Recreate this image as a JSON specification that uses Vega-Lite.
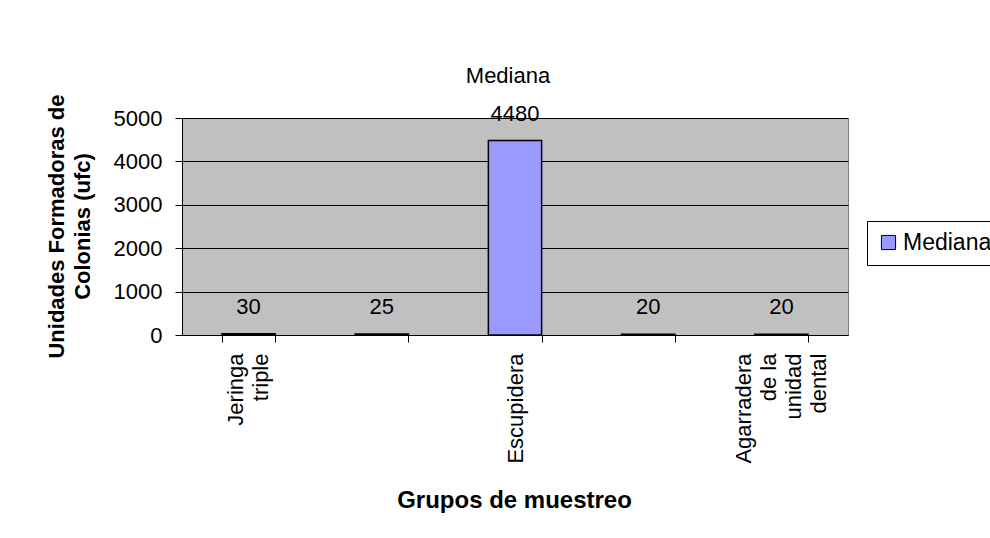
{
  "$schema": "https://vega.github.io/schema/vega-lite/v6.json",
  "width": 666,
  "height": 217,
  "autosize": {"type": "none"},
  "padding": {"left": 182, "top": 118, "right": 142, "bottom": 186},
  "background": "white",
  "title": {
    "text": "Mediana",
    "anchor": "middle",
    "frame": "group",
    "dx": -7,
    "offset": 6,
    "font": "Liberation Sans",
    "fontSize": 22,
    "fontWeight": "normal",
    "color": "black"
  },
  "data": {
    "values": [
      {"grupo": "Jeringa triple", "serie": "Mediana", "ufc": 30},
      {"grupo": " ", "serie": "Mediana", "ufc": 25},
      {"grupo": "Escupidera", "serie": "Mediana", "ufc": 4480},
      {"grupo": "  ", "serie": "Mediana", "ufc": 20},
      {"grupo": "Agarradera de la unidad dental", "serie": "Mediana", "ufc": 20}
    ]
  },
  "encoding": {
    "x": {
      "field": "grupo",
      "type": "nominal",
      "sort": null,
      "scale": {"paddingInner": 0.6, "paddingOuter": 0.3},
      "axis": {
        "title": "Grupos de muestreo",
        "titleFont": "Liberation Sans",
        "titleFontSize": 24,
        "titleFontWeight": "bold",
        "titleColor": "black",
        "titleY": 165,
        "titleBaseline": "middle",
        "titleX": 332,
        "labelAngle": 270,
        "labelAlign": "right",
        "labelBaseline": "middle",
        "labelFont": "Liberation Sans",
        "labelFontSize": 22,
        "labelColor": "black",
        "labelLineHeight": 25,
        "labelPadding": 11,
        "labelLimit": 300,
        "labelOffset": {
          "condition": [
            {"test": "datum.value == 'Agarradera de la unidad dental'", "value": -38},
            {"test": "datum.value == 'Jeringa triple'", "value": -13}
          ],
          "value": 0
        },
        "labelExpr": "datum.label == 'Agarradera de la unidad dental' ? ['Agarradera', 'de la', 'unidad', 'dental'] : split(datum.label, ' ')",
        "tickBand": "extent",
        "tickSize": 7,
        "tickColor": "black",
        "domainColor": "black",
        "grid": false
      }
    },
    "y": {
      "field": "ufc",
      "type": "quantitative",
      "scale": {"domain": [0, 5000], "nice": false},
      "axis": {
        "title": ["Unidades Formadoras de", "Colonias (ufc)"],
        "titleFont": "Liberation Sans",
        "titleFontSize": 22,
        "titleFontWeight": "bold",
        "titleColor": "black",
        "titleLineHeight": 26,
        "titleAngle": -90,
        "titleBaseline": "middle",
        "titleAlign": "center",
        "titleX": -126,
        "titleY": 108,
        "values": [0, 1000, 2000, 3000, 4000, 5000],
        "format": "d",
        "labelFont": "Liberation Sans",
        "labelFontSize": 22,
        "labelColor": "black",
        "labelPadding": 13,
        "tickSize": 7,
        "tickColor": "black",
        "domainColor": "black",
        "grid": true,
        "gridColor": "black",
        "gridWidth": 1
      }
    }
  },
  "layer": [
    {
      "mark": {"type": "bar", "stroke": "black", "strokeWidth": 1.5},
      "encoding": {
        "color": {
          "field": "serie",
          "type": "nominal",
          "scale": {"range": ["#9999FF"]},
          "legend": {
            "title": null,
            "orient": "none",
            "legendX": 685,
            "legendY": 103,
            "strokeColor": "black",
            "fillColor": "white",
            "padding": 10,
            "symbolType": "square",
            "symbolSize": 200,
            "symbolStrokeColor": "black",
            "symbolStrokeWidth": 1,
            "symbolOpacity": 1,
            "labelFont": "Liberation Sans",
            "labelFontSize": 23,
            "labelColor": "black",
            "labelOffset": 3
          }
        }
      }
    },
    {
      "mark": {
        "type": "text",
        "dy": -27,
        "baseline": "middle",
        "font": "Liberation Sans",
        "fontSize": 22,
        "color": "black"
      },
      "encoding": {
        "text": {"field": "ufc", "type": "quantitative"}
      }
    }
  ],
  "config": {
    "view": {"fill": "#C0C0C0", "stroke": "#808080", "strokeWidth": 1}
  }
}
